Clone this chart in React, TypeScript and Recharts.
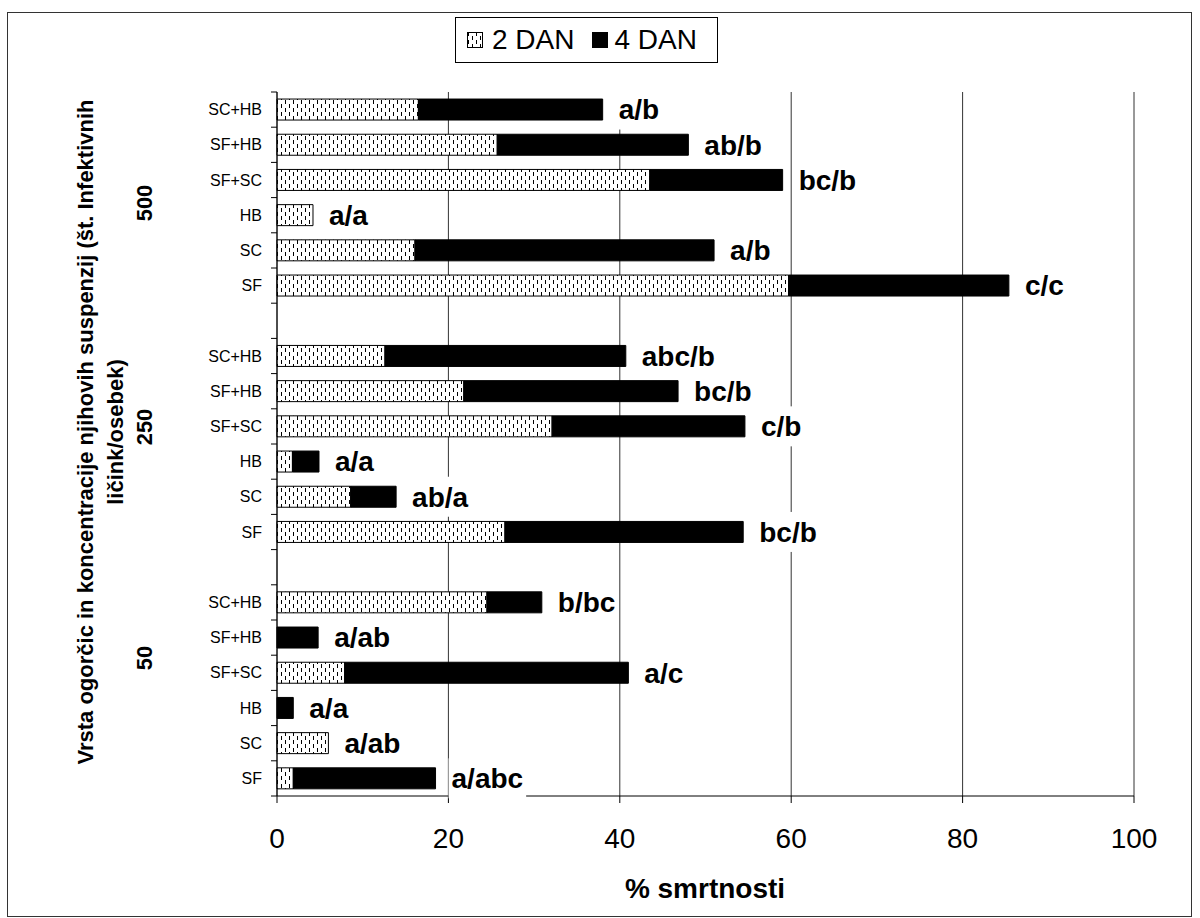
import React from "react";
import { Bar, BarChart, CartesianGrid, LabelList, Legend, XAxis, YAxis } from "recharts";

// skupine koncentracij (od zgoraj navzdol) in vrste ogorčic
const groups = ["500", "250", "50"];
const treatments = ["SC+HB", "SF+HB", "SF+SC", "HB", "SC", "SF"];

// % smrtnosti po 2 dneh in dodatni delež po 4 dneh
const dan2_500 = [16.5, 25.7, 43.5, 4.2, 16.1, 59.7];
const dan4_500 = [21.5, 22.3, 15.5, 0, 34.9, 25.7];
const dan2_250 = [12.6, 21.8, 32.1, 1.8, 8.6, 26.6];
const dan4_250 = [28.1, 25.0, 22.5, 3.1, 5.3, 27.8];
const dan2_50 = [24.5, 0, 7.9, 0, 6.0, 1.9];
const dan4_50 = [6.4, 4.8, 33.1, 1.9, 0, 16.6];

const labels_500 = ["a/b", "ab/b", "bc/b", "a/a", "a/b", "c/c"];
const labels_250 = ["abc/b", "bc/b", "c/b", "a/a", "ab/a", "bc/b"];
const labels_50 = ["b/bc", "a/ab", "a/c", "a/a", "a/ab", "a/abc"];

const xTicks = [0, 20, 40, 60, 80, 100];

const seriesNames = ["2 DAN", "4 DAN"];
const yTitle = [
  "Vrsta ogorčic in koncentracije njihovih suspenzij (št. Infektivnih",
  "ličink/osebek)",
];
const xTitle = "% smrtnosti";

type Row = {
  key: string;
  name: string;
  d2: number | null;
  d4: number | null;
  lab2: string; // oznaka na koncu 2 DAN (če 4 DAN ni)
  lab4: string;
};

function buildRows(): Row[] {
  const sets = [
    { d2: dan2_500, d4: dan4_500, lab: labels_500 },
    { d2: dan2_250, d4: dan4_250, lab: labels_250 },
    { d2: dan2_50, d4: dan4_50, lab: labels_50 },
  ];
  const rows: Row[] = [];
  sets.forEach((s, gi) => {
    treatments.forEach((t, i) =>
      rows.push({
        key: `${groups[gi]}-${t}`,
        name: t,
        d2: s.d2[i],
        d4: s.d4[i],
        lab2: s.d4[i] > 0 ? "" : s.lab[i],
        lab4: s.d4[i] > 0 ? s.lab[i] : "",
      })
    );
    if (gi < sets.length - 1)
      rows.push({ key: `gap-${gi}`, name: "", d2: null, d4: null, lab2: "", lab4: "" });
  });
  return rows;
}

const data = buildRows();
const nameByKey = new Map(data.map((r) => [r.key, r.name]));

let ctx: CanvasRenderingContext2D | null = null;
function textWidth(s: string): number {
  if (!ctx) ctx = document.createElement("canvas").getContext("2d");
  if (!ctx) return s.length * 15;
  ctx.font = "bold 28px 'Liberation Sans', Arial, sans-serif";
  return ctx.measureText(s).width;
}

function CatTick(props: any) {
  const { x, y, payload, index, visibleTicksCount } = props;
  const half = payload?.offset || 17.6;
  const isLast = index === visibleTicksCount - 1;
  return (
    <g>
      <line x1={x - 6} x2={x} y1={y - half} y2={y - half} stroke="#000" />
      {isLast && <line x1={x - 6} x2={x} y1={y + half} y2={y + half} stroke="#000" />}
      <text x={x - 15} y={y} dy="0.35em" textAnchor="end" fontSize={16} fill="#000">
        {nameByKey.get(payload.value) ?? ""}
      </text>
    </g>
  );
}

function BarLabel(props: any) {
  const { x, y, width, height, value } = props;
  if (!value) return null;
  const tx = Number(x) + Number(width) + 16;
  const cy = Number(y) + Number(height) / 2;
  const w = textWidth(String(value));
  return (
    <g>
      <rect x={tx - 3} y={cy - 20} width={w + 6} height={40} fill="#fff" />
      <text x={tx} y={cy} dy="0.35em" fontSize={28} fontWeight="bold" fill="#000">
        {value}
      </text>
    </g>
  );
}

function renderLegend() {
  return (
    <div
      style={{
        boxSizing: "border-box",
        width: 263,
        height: 46,
        border: "1px solid #000",
        background: "#fff",
        display: "flex",
        alignItems: "center",
        fontSize: 28,
        color: "#000",
        paddingLeft: 11,
        lineHeight: 1,
      }}
    >
      <svg width={16} height={16} style={{ marginRight: 9 }}>
        <rect x={0.5} y={0.5} width={15} height={15} fill="url(#dan2pat)" stroke="#000" />
      </svg>
      <span>{seriesNames[0]}</span>
      <svg width={16} height={16} style={{ marginLeft: 18, marginRight: 6 }}>
        <rect x={0.5} y={0.5} width={15} height={15} fill="#000" stroke="#000" />
      </svg>
      <span>{seriesNames[1]}</span>
    </div>
  );
}

export default function App() {
  return (
    <div
      style={{
        position: "absolute",
        left: 0,
        top: 0,
        width: 1200,
        height: 918,
        background: "#fff",
        fontFamily: "'Liberation Sans', Arial, sans-serif",
      }}
    >
      <svg width={0} height={0} style={{ position: "absolute" }}>
        <defs>
          <pattern id="dan2pat" width="8" height="8" patternUnits="userSpaceOnUse">
            <rect width="8" height="8" fill="#fff" />
            <rect x="1" y="0" width="1" height="4" fill="#000" />
            <rect x="5" y="4" width="1" height="4" fill="#000" />
          </pattern>
        </defs>
      </svg>

      <BarChart
        width={1200}
        height={918}
        data={data}
        layout="vertical"
        barCategoryGap="20%"
        margin={{ top: 92, right: 66, bottom: 62, left: 157 }}
      >
        <CartesianGrid horizontal={false} stroke="#333" />
        <XAxis
          type="number"
          domain={[0, 100]}
          ticks={xTicks}
          height={60}
          axisLine={{ stroke: "#000" }}
          tickLine={{ stroke: "#000" }}
          tickSize={7}
          tickMargin={25}
          tick={{ fill: "#000", fontSize: 28 }}
        />
        <YAxis
          type="category"
          dataKey="key"
          width={120}
          interval={0}
          axisLine={{ stroke: "#000" }}
          tickLine={false}
          tickSize={0}
          tickMargin={0}
          tick={<CatTick />}
        />
        <Legend
          layout="horizontal"
          verticalAlign="middle"
          align="center"
          content={renderLegend}
          wrapperStyle={{ top: 17, left: 455, width: 263, height: 46 }}
        />
        <Bar
          dataKey="d2"
          name={seriesNames[0]}
          stackId="s"
          fill="url(#dan2pat)"
          stroke="#000"
          strokeWidth={1}
          isAnimationActive={false}
        >
          <LabelList dataKey="lab2" content={BarLabel} />
        </Bar>
        <Bar
          dataKey="d4"
          name={seriesNames[1]}
          stackId="s"
          fill="#000"
          stroke="#000"
          strokeWidth={1}
          isAnimationActive={false}
        >
          <LabelList dataKey="lab4" content={BarLabel} />
        </Bar>
      </BarChart>

      <svg
        width={1200}
        height={918}
        style={{ position: "absolute", left: 0, top: 0, pointerEvents: "none" }}
      >
        <rect x={7.5} y={12.5} width={1184} height={904} fill="none" stroke="#333" />
        <text
          transform="translate(93,432) rotate(-90)"
          textAnchor="middle"
          fontSize={22}
          fontWeight="bold"
          fill="#000"
        >
          {yTitle[0]}
        </text>
        <text
          transform="translate(123,432) rotate(-90)"
          textAnchor="middle"
          fontSize={22}
          fontWeight="bold"
          fill="#000"
        >
          {yTitle[1]}
        </text>
        <text transform="translate(152,203) rotate(-90)" textAnchor="middle" fontSize={22} fontWeight="bold">
          {groups[0]}
        </text>
        <text transform="translate(152,427) rotate(-90)" textAnchor="middle" fontSize={22} fontWeight="bold">
          {groups[1]}
        </text>
        <text transform="translate(152,658) rotate(-90)" textAnchor="middle" fontSize={22} fontWeight="bold">
          {groups[2]}
        </text>
        <text x={705} y={898} textAnchor="middle" fontSize={28} fontWeight="bold" fill="#000">
          {xTitle}
        </text>
      </svg>
    </div>
  );
}
